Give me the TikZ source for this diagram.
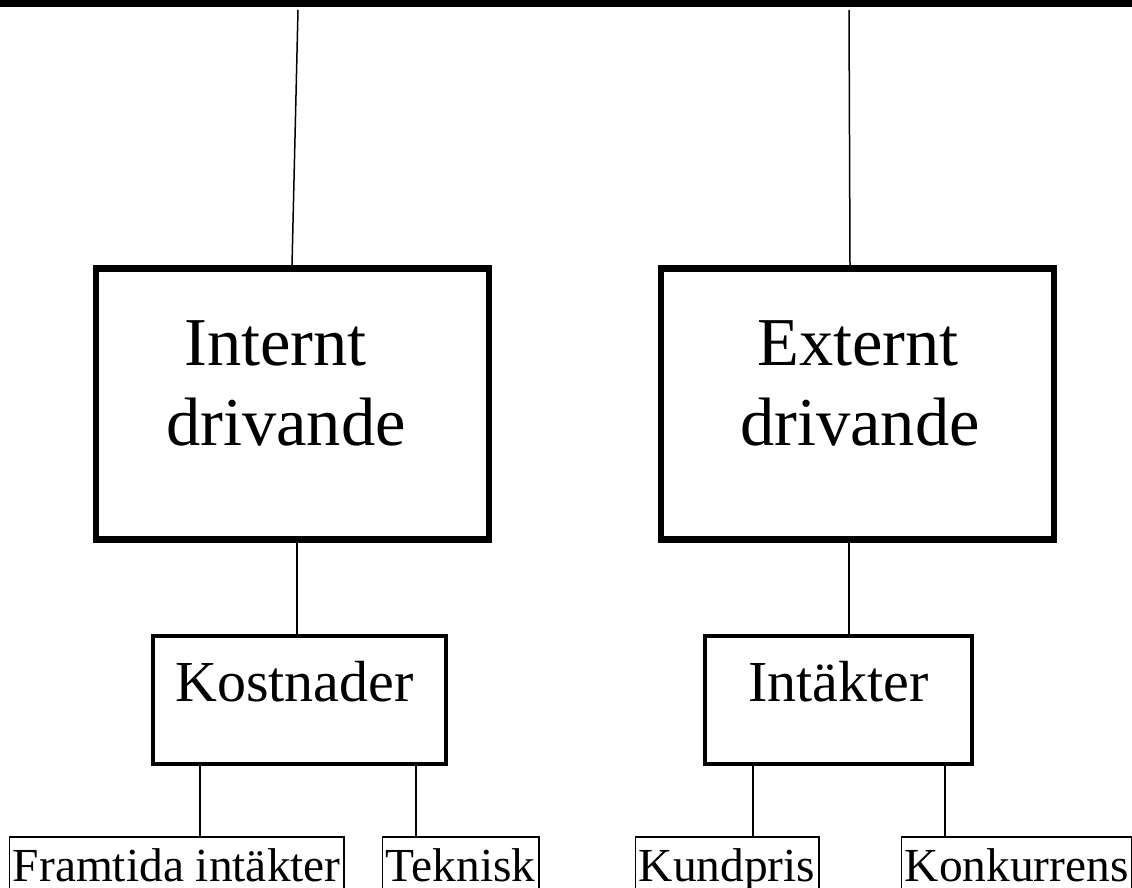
\documentclass[tikz,border=0pt]{standalone}
\usepackage{fontspec}
\setmainfont{Liberation Serif}
\begin{document}
\begin{tikzpicture}[x=1pt,y=-1pt,
  bigbox/.style={draw, line width=6.5pt, rectangle, inner sep=0pt, minimum width=393pt, minimum height=271pt},
  midbox/.style={draw, line width=4pt, rectangle, inner sep=0pt, minimum height=128pt},
  leafbox/.style={draw, line width=1.8pt, rectangle, inner xsep=3.5pt, inner ysep=0pt, text height=44pt, text depth=20pt, anchor=base west, font=\fontsize{47.4}{56}\selectfont},
  bigtxt/.style={inner sep=0pt, anchor=base west, font=\fontsize{68.5}{80}\selectfont},
  midtxt/.style={inner sep=0pt, anchor=base west, font=\fontsize{58}{68}\selectfont},
  conn/.style={line width=1.5pt}]
\useasboundingbox (0,0) rectangle (1132,888);
\fill[white] (0,0) rectangle (1132,888);
\fill[black] (0,0) rectangle (1132,7);
\coordinate (topL) at (298,10);
\coordinate (topR) at (849,10);
% main boxes
\node[bigbox] (internt) at (292.5,404) {};
\node[bigbox] (externt) at (857.5,404) {};
\node[bigtxt] (internt1) at (184,365) {Internt};
\node[bigtxt] (internt2) at (166,445) {drivande};
\node[bigtxt] (externt1) at (757,365) {Externt};
\node[bigtxt] (externt2) at (740,445) {drivande};
% middle boxes
\node[midbox, minimum width=293pt] (kost) at (299.5,700) {};
\node[midbox, minimum width=267pt] (intakt) at (838.5,700) {};
\node[midtxt] (kosttxt) at (175,701) {Kostnader};
\node[midtxt] (intakttxt) at (748,701) {Intäkter};
% leaf boxes
\node[leafbox] (framtida) at (8.5,881) {Framtida intäkter};
\node[leafbox] (teknisk) at (381.5,881) {Teknisk};
\node[leafbox] (kundpris) at (634.5,881) {Kundpris};
\node[leafbox] (konk) at (900.5,881) {Konkurrens};
% connectors
\draw[conn] (topL) -- (internt.north -| 292,0);
\draw[conn] (topR) -- (externt.north -| 850,0);
\draw[conn] (internt.south -| 297,0) -- (kost.north -| 297,0);
\draw[conn] (externt.south -| 849,0) -- (intakt.north -| 849,0);
\draw[conn] (kost.south -| 200,0) -- (framtida.north -| 200,0);
\draw[conn] (kost.south -| 416,0) -- (teknisk.north -| 416,0);
\draw[conn] (intakt.south -| 753,0) -- (kundpris.north -| 753,0);
\draw[conn] (intakt.south -| 945,0) -- (konk.north -| 945,0);
\end{tikzpicture}
\end{document}
